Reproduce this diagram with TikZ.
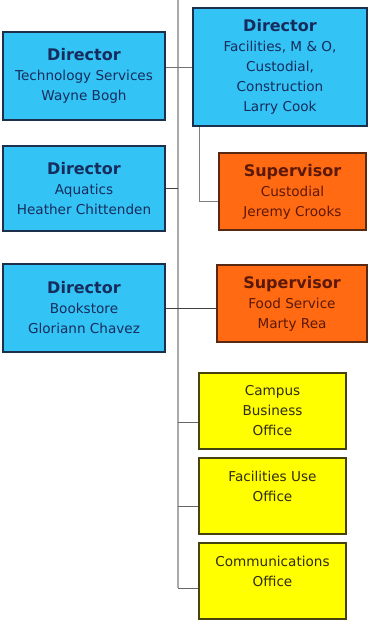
\documentclass[tikz,border=0pt]{standalone}
\usepackage{fontspec}
\setmainfont{DejaVu Sans}
\usetikzlibrary{positioning}
\usepackage{xcolor}

\definecolor{dirfill}{RGB}{51,196,245}
\definecolor{dirline}{RGB}{28,48,78}
\definecolor{dirtext}{RGB}{22,44,92}
\definecolor{supfill}{RGB}{255,106,18}
\definecolor{supline}{RGB}{88,40,16}
\definecolor{suptext}{RGB}{92,24,8}
\definecolor{offfill}{RGB}{255,255,0}
\definecolor{offline}{RGB}{70,66,16}
\definecolor{offtext}{RGB}{48,44,20}
\definecolor{trunkgray}{RGB}{170,170,170}

\newcommand{\headline}[1]{{\fontsize{16}{20}\selectfont\bfseries #1}}

\begin{document}
\begin{tikzpicture}[x=1pt,y=-1pt,
    boxbase/.style={line width=1.8pt,align=center,inner sep=0pt,
      font=\fontsize{13.6}{20}\selectfont},
    dirbox/.style={boxbase,draw=dirline,fill=dirfill,text=dirtext},
    supbox/.style={boxbase,draw=supline,fill=supfill,text=suptext},
    officebox/.style={boxbase,draw=offline,fill=offfill,text=offtext,
      minimum width=147pt,minimum height=76pt},
    link/.style={draw=black!75,line width=1pt},
    trunk/.style={draw=trunkgray,line width=1.8pt}]
  \useasboundingbox (0,0) rectangle (372,621);

  \node[dirbox,minimum width=162pt,minimum height=88pt] (tech) at (84,76)
    {\headline{Director}\\Technology Services\\Wayne Bogh};
  \node[dirbox,minimum width=174pt,minimum height=118pt] (fac) at (280,67)
    {\headline{Director}\\Facilities, M \& O,\\Custodial,\\Construction\\Larry Cook};
  \node[dirbox,minimum width=162pt,minimum height=85pt] (aqua) at (84,188.5)
    {\headline{Director}\\Aquatics\\Heather Chittenden};
  \node[supbox,minimum width=147pt,minimum height=77pt] (cust) at (292.5,191.5)
    {\headline{Supervisor}\\Custodial\\Jeremy Crooks};
  \node[dirbox,minimum width=162pt,minimum height=88pt] (book) at (84,308)
    {\headline{Director}\\Bookstore\\Gloriann Chavez};
  \node[supbox,minimum width=150pt,minimum height=77pt] (food) at (292,303.5)
    {\headline{Supervisor}\\Food Service\\Marty Rea};
  \node[officebox] (campus) at (272.5,411) {Campus\\Business\\Office};
  \node[officebox,text depth=20pt] (fuse) at (272.5,496) {Facilities Use\\Office};
  \node[officebox,text depth=20pt] (comm) at (272.5,581) {Communications\\Office};

  \coordinate (top) at (178,0);
  \coordinate (bottom) at (178,588);
  \draw[trunk] (top) -- (bottom);

  \draw[link,draw=black!55] (tech.east |- fac.west) -- (fac.west);
  \draw[link] (aqua.east) -- (aqua.east -| top);
  \draw[link,draw=black!50] ([xshift=7pt]fac.south west) |- ([yshift=-10pt]cust.west);
  \draw[link] (book.east) -- (book.east -| food.west);
  \draw[link,draw=black!60] ([yshift=-11pt]campus.west) -- ([yshift=-11pt]campus.west -| top);
  \draw[link,draw=black!60] ([yshift=-10pt]fuse.west) -- ([yshift=-10pt]fuse.west -| top);
  \draw[link,draw=black!60] ([yshift=-7pt]comm.west) -- (bottom);
\end{tikzpicture}
\end{document}
